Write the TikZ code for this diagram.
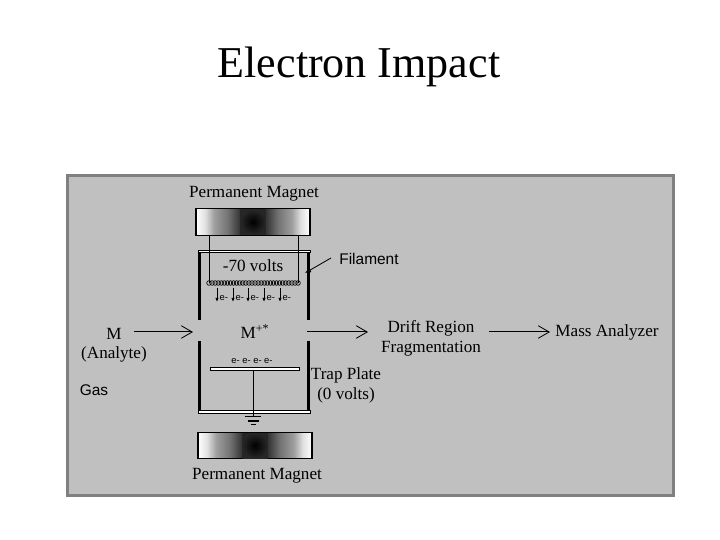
\documentclass[tikz,border=0pt]{standalone}
\usepackage{fontspec}
\setmainfont{Liberation Serif}
\newfontfamily\labelsans{Liberation Sans}
\usetikzlibrary{arrows.meta,positioning,calc}
\definecolor{panel}{HTML}{C0C0C0}
\definecolor{panelrim}{HTML}{808080}
\pgfdeclarehorizontalshading{magnetfield}{100bp}{
  color(0bp)=(white); color(25bp)=(white);
  color(29bp)=(black!12); color(33bp)=(black!38); color(39bp)=(black!55); color(44bp)=(black!78);
  color(47bp)=(black!85); color(53bp)=(black!85); color(56bp)=(black!78);
  color(61bp)=(black!55); color(67bp)=(black!38); color(71bp)=(black!12);
  color(75bp)=(white); color(100bp)=(white)}
\begin{document}
\begin{tikzpicture}[
  x=0.03cm,y=-0.03cm,
  serif label/.style={font=\fontsize{14.6}{16}\selectfont, inner sep=0pt, align=center},
  sans label/.style={font=\labelsans\fontsize{13.2}{14}\selectfont, inner sep=0pt},
  electron/.style={font=\labelsans\fontsize{8}{9}\selectfont, inner sep=0pt},
  magnetbar/.style={draw=black, line width=0.35mm, shading=magnetfield, minimum width=34.2mm, minimum height=8mm, inner sep=0pt},
  magnetcore/.style={inner color=black, outer color=black!85},
  wall/.style={line width=0.9mm},
  plate/.style={draw=black, fill=white, line width=0.3mm},
  wire/.style={line width=0.3mm},
  flow/.style={-{Straight Barb[length=3.3mm,width=3.8mm,line width=0.25mm]}, line width=0.3mm},
  drop/.style={-{Latex[length=1.2mm,width=1mm]}, line width=0.25mm},
]
\useasboundingbox[fill=white] (0,0) rectangle (720,540);
% --- panel ---
\draw[fill=panel, draw=panelrim, line width=0.9mm] (67,176) rectangle (673,495);
\node[font=\fontsize{37.6}{40}\selectfont, inner sep=0pt] (title) at (359,67) {Electron Impact};
% --- magnets ---
\node[serif label] (topname) at (254,193.5) {Permanent Magnet};
\node[magnetbar] (topmagnet) at (253,222) {};
\node[magnetbar] (lowmagnet) at (255,445.5) {};
\node[serif label] (lowname) at (257,476) {Permanent Magnet};
\foreach \m in {topmagnet,lowmagnet} {
  \shade[magnetcore] ($(\m.center)+(-12.5,-12.5)$) rectangle ($(\m.center)+(12.5,12.5)$);
}
% --- source box ---
\draw[wall] (199,252) -- (199,320) (308,252) -- (308,320);
\draw[wall] (199,341) -- (199,412) (308,341) -- (308,412);
\draw[plate] (198,250.5) rectangle (310,252.5);
\draw[plate] (198,411) rectangle (310,413.5);
% --- filament ---
\coordinate (leadL) at (209,283);
\coordinate (leadR) at (298,283);
\draw[wire] (topmagnet.south -| leadL) -- (leadL);
\draw[wire] (topmagnet.south -| leadR) -- (leadR);
\foreach \i in {0,...,29} {
  \draw[line width=0.2mm] ($(leadL)+(\i*3.07,0)$) circle (2.3);
}
\node[serif label] (volts) at (253,265.5) {-70 volts};
\node[sans label] (filament) at (369,258.5) {Filament};
\draw[-{Latex[length=1.8mm,width=1.6mm]}, line width=0.25mm] (331,258) -- (305,273);
% --- electrons ---
\foreach \x in {217,233,248,264,280} {
  \coordinate (etop) at (\x,288);
  \coordinate (ebot) at (\x,302);
  \draw[drop] (etop) -- (ebot);
  \node[electron, anchor=west] at (\x+2.5,298) {e-};
}
% --- trap plate ---
\node[electron] (trapped) at (252,361) {e- e- e- e-};
\draw[plate] (210.5,368) rectangle (299.5,370.5);
\coordinate (plateC) at (253,370.5);
\coordinate (earth) at (253,417);
\draw[wire] (plateC) -- (earth);
\draw[wire] (245,417) -- (261,417) (247.5,421) -- (258.5,421) (250.5,424.5) -- (255.5,424.5);
\node[serif label] (trap) at (346,385.5) {Trap Plate\\[1.2pt](0 volts)};
% --- ion path ---
\node[serif label] (analyte) at (114,345.5) {M\\[0.6pt](Analyte)};
\node[sans label] (gas) at (94,390.5) {Gas};
\node[serif label] (ion) at (255,331.5) {M\textsuperscript{+*}};
\node[serif label] (drift) at (431,338) {Drift Region\\[1.2pt]Fragmentation};
\node[serif label] (analyzer) at (607,332) {Mass Analyzer};
\coordinate (inStart) at (134,332);
\coordinate (inEnd) at (193,332);
\coordinate (midStart) at (307,332);
\coordinate (midEnd) at (368,332);
\coordinate (outStart) at (489,332);
\coordinate (outEnd) at (550,332);
\draw[flow] (inStart) -- (inEnd);
\draw[flow] (midStart) -- (midEnd);
\draw[flow] (outStart) -- (outEnd);
\end{tikzpicture}
\end{document}
